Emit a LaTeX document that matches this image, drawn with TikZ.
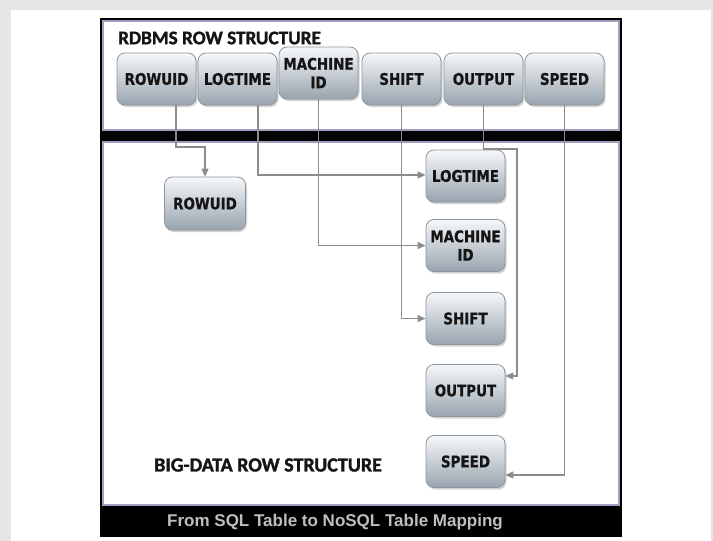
\documentclass[tikz,border=0pt]{standalone}
\usepackage{fontspec}
\usetikzlibrary{arrows.meta,shadows,calc}
\newfontfamily\boxfont[FakeStretch=0.84,FakeBold=0.8]{DejaVu Sans Bold}
\newfontfamily\titlefont[FakeBold=1.5]{Carlito Bold}
\newfontfamily\capfont{Liberation Sans Bold}
\definecolor{bggray}{HTML}{E6E6E6}
\definecolor{lav}{HTML}{A29EC2}
\definecolor{boxtop}{HTML}{F6F8FA}
\definecolor{boxbot}{HTML}{98A4AE}
\definecolor{boxline}{HTML}{8E969D}
\definecolor{conncol}{HTML}{8C8C8C}
\definecolor{capcol}{HTML}{BEBEBE}
\definecolor{textcol}{HTML}{151515}
\tikzset{
  fieldbox/.style={rounded corners=8pt, minimum width=79pt, minimum height=52pt,
    draw=boxline, line width=0.8pt, top color=boxtop, bottom color=boxbot,
    align=center, inner sep=0pt, text=textcol,
    font=\boxfont\fontsize{16}{18.5}\selectfont,
    drop shadow={shadow xshift=1.5pt, shadow yshift=-2pt, opacity=0.35}},
  conn/.style={draw=conncol, line width=1.1pt},
  connarrow/.style={conn, -{Triangle[length=8pt,width=7pt]}, color=conncol},
  paneltitle/.style={font=\titlefont\fontsize{19.2}{23}\selectfont, inner sep=0pt, text=textcol}
}
\begin{document}
\begin{tikzpicture}[x=1pt,y=-1pt]
% background and frame
\fill[bggray] (0,0) rectangle (713,541);
\fill[white] (11,10) rectangle (711,541);
\useasboundingbox (0,0) rectangle (713,541);
\fill[black] (100,18) rectangle (622,537);
\filldraw[fill=white, draw=lav, line width=1.8pt] (103,21) rectangle (619,130);
\filldraw[fill=white, draw=lav, line width=1.8pt] (103,142) rectangle (619,505);

% titles
\node[paneltitle, anchor=west] (toptitle) at (118,38) {RDBMS ROW STRUCTURE};
\node[paneltitle, anchor=west, font=\titlefont\fontsize{20}{24}\selectfont] (bottitle) at (154,465) {BIG-DATA ROW STRUCTURE};
\node[font=\capfont\fontsize{17}{20}\selectfont, text=capcol, inner sep=0pt] (caption) at (335,522) {From SQL Table to NoSQL Table Mapping};

% top row boxes
\node[fieldbox] (t1) at (156.5,79) {ROWUID};
\node[fieldbox] (t2) at (237.5,79) {LOGTIME};
\node[fieldbox] (t3) at (318.5,73) {MACHINE\\ID};
\node[fieldbox] (t4) at (401.5,79) {SHIFT};
\node[fieldbox] (t5) at (483.5,79) {OUTPUT};
\node[fieldbox] (t6) at (564.5,79) {SPEED};

% bottom boxes
\node[fieldbox, minimum width=81pt, minimum height=53pt] (b1) at (205,203.5) {ROWUID};
\node[fieldbox] (b2) at (465.5,176) {LOGTIME};
\node[fieldbox] (b3) at (465.5,245.5) {MACHINE\\ID};
\node[fieldbox] (b4) at (465.5,318.5) {SHIFT};
\node[fieldbox] (b5) at (465.5,390.5) {OUTPUT};
\node[fieldbox] (b6) at (465.5,461.5) {SPEED};

% helper coordinates
\coordinate (r1) at (176,147);
\coordinate (l1) at (258,175);
\coordinate (o1) at (517,149);
\coordinate (o2) at (517,376);
\coordinate (s1) at (564,475);

% connectors
\draw[connarrow] (t1.south -| r1) -- (r1) -| (b1.north);
\draw[connarrow] (t2.south -| l1) -- (l1) -- (l1 -| b2.west);
\draw[connarrow] (t3.south) |- (b3.west);
\draw[connarrow] (t4.south) |- (b4.west);
\draw[connarrow] (t5.south) |- (o1) -- (o2) -- (o2 -| b5.east);
\draw[connarrow] (t6.south) |- (s1 -| b6.east);
\end{tikzpicture}
\end{document}
